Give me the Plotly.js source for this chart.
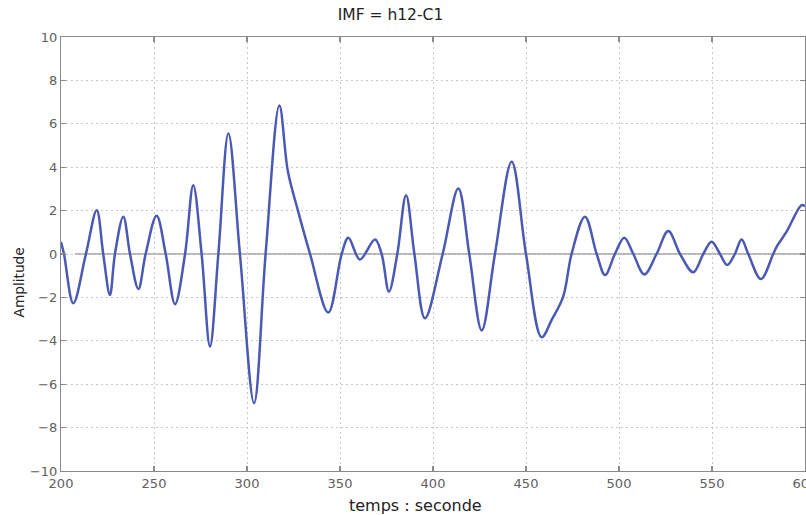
<!DOCTYPE html>
<html>
<head>
<meta charset="utf-8">
<script src="https://cdn.plot.ly/plotly-3.0.1.min.js"></script>
<style>html,body{margin:0;padding:0;background:#fff;}#chart{width:806px;height:515px;}</style>
</head>
<body>
<div id="chart"></div>
<script>
// Points (time in seconds, IMF amplitude)
const timeSec = [200, 201.6, 206.6, 213.4, 219.2, 222.7, 226.3, 229.0, 233.5, 237.1, 241.6, 245.5, 251.4, 256.3, 261.3, 266.7, 271.1, 275.6, 280.1, 284.6, 290.0, 296.2, 303.8, 310.0, 317.4, 322.0, 327.4, 333.9, 343.7, 350.9, 354.5, 360.7, 368.8, 372.4, 376.3, 380.8, 385.5, 390.0, 395.7, 405.2, 413.6, 419.5, 426.2, 433.3, 442.3, 450.0, 458.4, 464.0, 470.0, 474.5, 481.7, 488.0, 492.5, 497.8, 502.8, 507.7, 513.6, 520.2, 526.5, 532.8, 539.9, 545.3, 549.8, 554.3, 558.2, 562.3, 565.9, 569.5, 576.3, 582.9, 584.8, 590.1, 598.2, 600];
const amplitude = [0.55, 0, -2.27, 0, 2.02, 0, -1.89, 0, 1.72, 0, -1.61, 0, 1.76, 0, -2.31, 0, 3.17, 0, -4.26, 0, 5.55, 0, -6.87, 0, 6.84, 3.8, 2.0, 0, -2.7, 0, 0.75, -0.25, 0.67, 0, -1.73, 0, 2.71, 0, -2.96, 0, 3.02, 0, -3.52, 0, 4.25, 0, -3.83, -3.0, -1.96, 0, 1.72, 0, -0.97, 0, 0.75, 0, -0.94, 0, 1.06, 0, -0.84, 0, 0.57, 0, -0.51, 0, 0.67, 0, -1.15, 0, 0.34, 1.03, 2.25, 2.2];
const xTicks = [200, 250, 300, 350, 400, 450, 500, 550, 600];
const yTicks = [-10, -8, -6, -4, -2, 0, 2, 4, 6, 8, 10];

const tickFont = {family: 'DejaVu Sans, Liberation Sans, sans-serif', size: 13, color: '#606060'};
const axisCommon = {
  showline: true, linecolor: '#8a8a8a', linewidth: 1.2, mirror: 'ticks',
  ticks: 'inside', ticklen: 5, tickcolor: '#8a8a8a', tickwidth: 1.2,
  showgrid: true, gridcolor: '#c8c8c8', griddash: '2px,3px', gridwidth: 1,
  zeroline: false, tickfont: tickFont, fixedrange: true, ticklabeloverflow: 'allow'
};

const trace = {
  x: timeSec, y: amplitude, type: 'scatter', mode: 'lines',
  line: {color: '#4a5ab4', width: 2.5, shape: 'spline', smoothing: 1.0},
  hoverinfo: 'skip', cliponaxis: true
};

const layout = {
  width: 806, height: 515,
  margin: {l: 61, r: 1, t: 36.5, b: 43.5},
  paper_bgcolor: '#ffffff', plot_bgcolor: '#ffffff',
  showlegend: false,
  title: {text: 'IMF = h12-C1', x: 390.5/806, xref: 'container', xanchor: 'center',
          y: 1 - 15/515, yref: 'container', yanchor: 'middle',
          font: {family: 'DejaVu Sans, Liberation Sans, sans-serif', size: 15.5, color: '#222'}},
  xaxis: Object.assign({}, axisCommon, {range: [200, 600], tickvals: xTicks, ticktext: xTicks.map(String)}),
  yaxis: Object.assign({}, axisCommon, {range: [-10, 10], tickvals: yTicks}),
  shapes: [{type: 'line', xref: 'x', yref: 'y', x0: 207.5, x1: 600, y0: 0, y1: 0,
            line: {color: '#6e6e6e', width: 1.2}, layer: 'below'}],
  annotations: [
    {text: 'temps : seconde', xref: 'paper', yref: 'paper', x: (415-61)/744, y: -(506-471.5)/435,
     xanchor: 'center', yanchor: 'middle', showarrow: false,
     font: {family: 'DejaVu Sans, Liberation Sans, sans-serif', size: 16, color: '#222'}},
    {text: 'Amplitude', xref: 'paper', yref: 'paper', x: -(61-18.5)/744, y: (471.5-283)/435,
     xanchor: 'center', yanchor: 'middle', showarrow: false, textangle: -90,
     font: {family: 'DejaVu Sans, Liberation Sans, sans-serif', size: 13.7, color: '#222'}}
  ]
};

Plotly.newPlot('chart', [trace], layout, {displayModeBar: false, staticPlot: true});
</script>
</body>
</html>
